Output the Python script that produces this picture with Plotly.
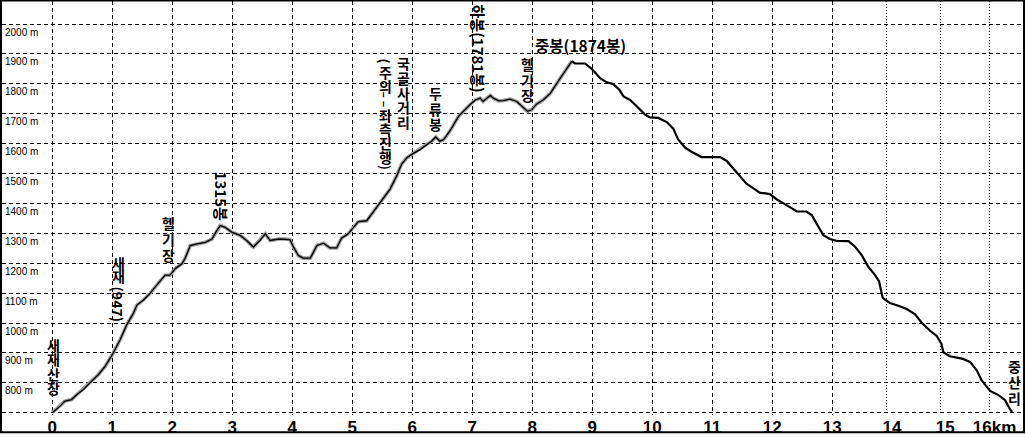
import plotly.graph_objects as go

# ---------------- data ----------------
distance_km = [
    0.00, 0.13, 0.21, 0.32, 0.41, 0.52, 0.63, 0.77, 0.88, 1.00,
    1.13, 1.24, 1.35, 1.41, 1.52, 1.63, 1.74, 1.88, 1.96, 2.05,
    2.16, 2.21, 2.30, 2.41, 2.55, 2.66, 2.74, 2.80, 2.88, 2.99,
    3.13, 3.24, 3.35, 3.46, 3.55, 3.63, 3.77, 3.88, 3.96, 4.02,
    4.10, 4.18, 4.30, 4.41, 4.52, 4.63, 4.74, 4.82, 4.93, 5.02,
    5.10, 5.24, 5.38, 5.49, 5.63, 5.74, 5.82, 5.91, 5.99, 6.13,
    6.24, 6.32, 6.39, 6.46, 6.52, 6.63, 6.77, 6.85, 6.96, 7.05,
    7.13, 7.18, 7.30, 7.35, 7.44, 7.52, 7.63, 7.74, 7.85, 7.92,
    7.99, 8.07, 8.18, 8.30, 8.43, 8.57, 8.66, 8.71, 8.88, 8.99,
    9.13, 9.24, 9.35, 9.45, 9.52, 9.63, 9.74, 9.88, 9.96, 10.10,
    10.24, 10.35, 10.43, 10.55, 10.66, 10.82, 11.13, 11.24, 11.35, 11.46,
    11.57, 11.68, 11.79, 11.96, 12.07, 12.18, 12.29, 12.41, 12.57, 12.66,
    12.74, 12.85, 12.96, 13.07, 13.27, 13.38, 13.49, 13.60, 13.71, 13.78,
    13.84, 13.96, 14.10, 14.24, 14.38, 14.49, 14.63, 14.74, 14.82, 14.85,
    14.96, 15.18, 15.30, 15.41, 15.49, 15.63, 15.77, 15.88, 15.97, 16.00,
]
elevation_m = [
    700, 722, 739, 744, 761, 778, 800, 828, 855, 894,
    944, 994, 1032, 1060, 1077, 1099, 1127, 1160, 1160, 1182,
    1198, 1215, 1259, 1265, 1270, 1281, 1309, 1326, 1320, 1304,
    1293, 1276, 1254, 1276, 1298, 1276, 1281, 1281, 1279, 1254,
    1226, 1217, 1217, 1259, 1267, 1251, 1251, 1284, 1298, 1320,
    1339, 1342, 1381, 1409, 1448, 1492, 1531, 1553, 1564, 1580,
    1595, 1608, 1622, 1608, 1613, 1643, 1691, 1708, 1730, 1746,
    1752, 1741, 1761, 1752, 1743, 1744, 1749, 1741, 1721, 1708,
    1713, 1732, 1746, 1768, 1808, 1852, 1876, 1868, 1868, 1850,
    1819, 1805, 1799, 1780, 1758, 1746, 1725, 1697, 1688, 1686,
    1672, 1650, 1614, 1586, 1572, 1555, 1555, 1542, 1517, 1492,
    1466, 1451, 1436, 1431, 1414, 1401, 1387, 1373, 1373, 1360,
    1332, 1294, 1281, 1275, 1274, 1255, 1227, 1188, 1161, 1139,
    1084, 1067, 1058, 1047, 1029, 1001, 974, 957, 930, 902,
    889, 880, 869, 841, 808, 773, 759, 742, 709, 703,
]

x_tick_vals = list(range(14))
x_tick_text = [str(v) for v in x_tick_vals]
x_end_tick_vals = [13.91, 14.80, 15.62]
x_end_tick_text = ["14", "15", "16km"]
y_tick_vals = list(range(700, 2001, 100))
y_tick_text = [""] + [f"{v} m" for v in y_tick_vals[1:]]

# place names written vertically: upright hangul runs, rotated latin runs
stacked_runs = ["새재산장", "새재", "헬기장", "주의", "좌측진행", "국골사거리", "두류봉", "헬기장", "중산리"]
rotated_runs = ["(947)", "1315봉", "(", "– –", ")", "하봉(1781봉)"]
horizontal_label = "중봉(1874봉)"

# ---------------- layout geometry (pixels) ----------------
W, H = 1026, 438
L, T, PW, PH = 2, 1, 1022, 418
x_range = [(L - 52.3) / 60, (L + PW - 52.3) / 60]
px_per_m = 0.3019
y_range = [700 - (T + PH - 416.7) / px_per_m, 700 + (416.7 - T) / px_per_m]


def px(xp):
    return (xp - L) / PW


def py(yp):
    return (T + PH - yp) / PH


# (centre x, centre y, glyph pitch) for stacked runs
stacked_pos = [
    (53, 370.5, 14.3),
    (118, 272.5, 12.8),
    (168, 241, 16),
    (385, 79.5, 13.5),
    (385, 137.5, 14),
    (403, 93, 14.8),
    (435, 109.5, 15.5),
    (527, 80.5, 15.5),
    (1014, 386, 16),
]
# (centre x, centre y, font size) for rotated runs
rotated_pos = [
    (118, 306.5, 14),
    (221, 197.5, 15),
    (385, 61, 13),
    (385, 100.5, 12),
    (385, 168.5, 13),
    (478, 49, 15),
]

peak = elevation_m.index(max(elevation_m))

fig = go.Figure()
fig.add_trace(go.Scatter(x=distance_km[:peak + 1], y=elevation_m[:peak + 1], mode="lines",
                         line=dict(color="#9a9a9a", width=3.6), hoverinfo="skip"))
fig.add_trace(go.Scatter(x=distance_km[:peak + 1], y=elevation_m[:peak + 1], mode="lines",
                         line=dict(color="black", width=1.3), hoverinfo="skip"))
fig.add_trace(go.Scatter(x=distance_km[peak:], y=elevation_m[peak:], mode="lines",
                         line=dict(color="black", width=2.2), xaxis="x2", hoverinfo="skip"))

grid_common = dict(showgrid=True, gridcolor="black", gridwidth=1, zeroline=False,
                   showline=False, ticks="", fixedrange=True)
xfont = dict(family="Liberation Sans", size=17, color="black", weight="bold")

fig.update_layout(
    width=W, height=H,
    margin=dict(l=L, r=W - L - PW, t=T, b=H - T - PH),
    paper_bgcolor="white", plot_bgcolor="white",
    showlegend=False,
    xaxis=dict(range=x_range, tickmode="array", tickvals=x_tick_vals, ticktext=x_tick_text,
               griddash="4px,3px", tickfont=xfont, **grid_common),
    xaxis2=dict(range=x_range, overlaying="x", anchor="y", side="bottom", tickmode="array",
                tickvals=x_end_tick_vals, ticktext=x_end_tick_text, griddash="1px,2px",
                tickfont=xfont, ticklabelshift=5, **grid_common),
    yaxis=dict(range=y_range, tickmode="array", tickvals=y_tick_vals, ticktext=y_tick_text,
               griddash="4px,3px", ticklabelposition="inside", ticklabelshift=8,
               ticklabelstandoff=0,
               tickfont=dict(family="Liberation Sans", size=10, color="black"),
               **grid_common),
)

KFAM = "Noto Sans CJK KR"
for run, (cx, cy, pitch) in zip(stacked_runs, stacked_pos):
    text = "<br>".join(f"<span style='font-size:14px'>{ch}</span>" for ch in run)
    fig.add_annotation(x=px(cx), y=py(cy), xref="paper", yref="paper", text=text,
                       showarrow=False, xanchor="center", yanchor="middle", borderpad=0,
                       font=dict(family=KFAM, size=pitch / 1.3, color="black", weight="bold"))

for run, (cx, cy, size) in zip(rotated_runs, rotated_pos):
    fig.add_annotation(x=px(cx), y=py(cy), xref="paper", yref="paper", text=run,
                       showarrow=False, xanchor="center", yanchor="middle", textangle=90,
                       borderpad=0,
                       font=dict(family=KFAM, size=size, color="black", weight="bold"))

fig.add_annotation(x=px(580), y=py(45), xref="paper", yref="paper", text=horizontal_label,
                   showarrow=False, xanchor="center", yanchor="middle", borderpad=0,
                   font=dict(family=KFAM, size=15.5, color="black", weight="bold"))

fig.add_shape(type="rect", xref="paper", yref="paper",
              x0=px(1), x1=px(1024), y0=py(436.5), y1=py(0.5),
              line=dict(color="black", width=2), layer="above")

fig.write_html("out.html", config={"displayModeBar": False},
               post_script="document.body.style.margin='0px';document.body.style.overflow='hidden';")
